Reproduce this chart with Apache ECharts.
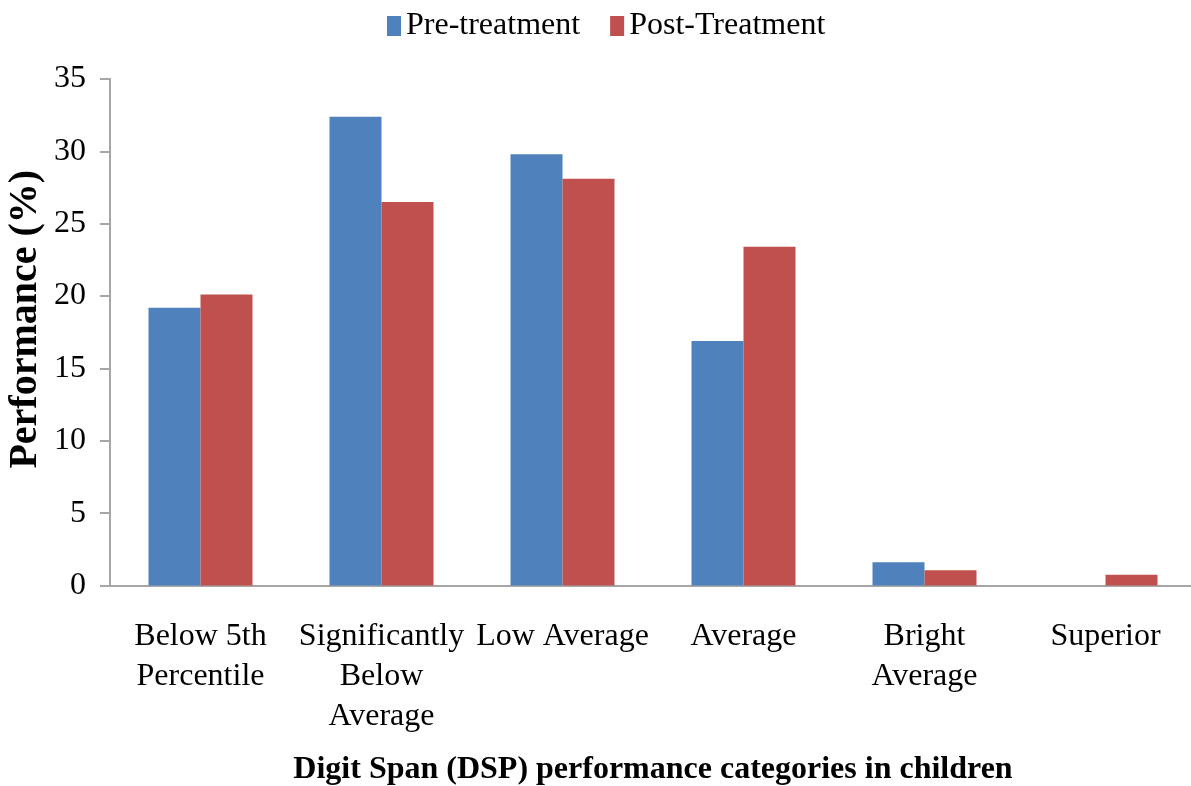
<!DOCTYPE html>
<html>
<head>
<meta charset="utf-8">
<title>Digit Span performance categories</title>
<script src="https://cdn.jsdelivr.net/npm/echarts@6/dist/echarts.min.js"></script>
<style>
  html, body { margin: 0; padding: 0; background: #fff; }
  #chart { width: 1191px; height: 786px; }
</style>
</head>
<body>
<div id="chart"></div>
<script>
// Digit Span (DSP) performance categories, percentage of children per category
const categories = [
  'Below 5th\nPercentile',
  'Significantly\nBelow\nAverage',
  'Low Average',
  'Average',
  'Bright\nAverage',
  'Superior'
];
const preTreatment = [19.2, 32.4, 29.8, 16.9, 1.6, 0];
const postTreatment = [20.1, 26.5, 28.1, 23.4, 1.05, 0.75];
const seriesNames = ['Pre-treatment', 'Post-Treatment'];
const yTicks = { min: 0, max: 35, step: 5 };

const serif = '"Liberation Serif", "Times New Roman", serif';
const axisGrey = '#a6a6a6';

const chart = echarts.init(document.getElementById('chart'), null, { renderer: 'canvas' });

chart.setOption({
  backgroundColor: '#ffffff',
  animation: false,
  legend: {
    top: 5,
    left: 382,
    itemWidth: 14,
    itemHeight: 20,
    itemGap: 30,
    icon: 'rect',
    textStyle: { fontFamily: serif, fontSize: 32, color: '#000' },
    data: seriesNames
  },
  grid: {
    left: 110,
    top: 79,
    width: 1086,
    height: 506.5,
    containLabel: false,
    outerBoundsMode: 'none'
  },
  xAxis: {
    type: 'category',
    data: categories,
    axisLine: { show: true, lineStyle: { color: axisGrey, width: 2 } },
    axisTick: { show: false },
    axisLabel: {
      interval: 0,
      margin: 31,
      fontFamily: serif,
      fontSize: 32,
      lineHeight: 40,
      color: '#000'
    },
    name: 'Digit Span (DSP) performance categories in children',
    nameLocation: 'middle',
    nameGap: 168,
    nameMoveOverlap: false,
    nameTextStyle: { fontFamily: serif, fontSize: 32, fontWeight: 'bold', color: '#000' }
  },
  yAxis: {
    type: 'value',
    min: yTicks.min,
    max: yTicks.max,
    interval: yTicks.step,
    splitLine: { show: false },
    axisLine: { show: true, lineStyle: { color: axisGrey, width: 2 } },
    axisTick: { show: true, length: 10, lineStyle: { color: axisGrey, width: 2 } },
    axisLabel: {
      margin: 24,
      fontFamily: serif,
      fontSize: 32,
      color: '#000'
    },
    name: 'Performance (%)',
    nameLocation: 'middle',
    nameGap: 64,
    nameMoveOverlap: false,
    nameTextStyle: {
      fontFamily: serif,
      fontSize: 40,
      fontWeight: 'bold',
      color: '#000',
      padding: [0, 0, 0, 26]
    }
  },
  series: [
    {
      name: seriesNames[0],
      type: 'bar',
      data: preTreatment,
      barWidth: 52,
      barGap: '0%',
      itemStyle: { color: '#4f81bd' }
    },
    {
      name: seriesNames[1],
      type: 'bar',
      data: postTreatment,
      barWidth: 52,
      barGap: '0%',
      itemStyle: { color: '#c0504d' }
    }
  ]
});
</script>
</body>
</html>
